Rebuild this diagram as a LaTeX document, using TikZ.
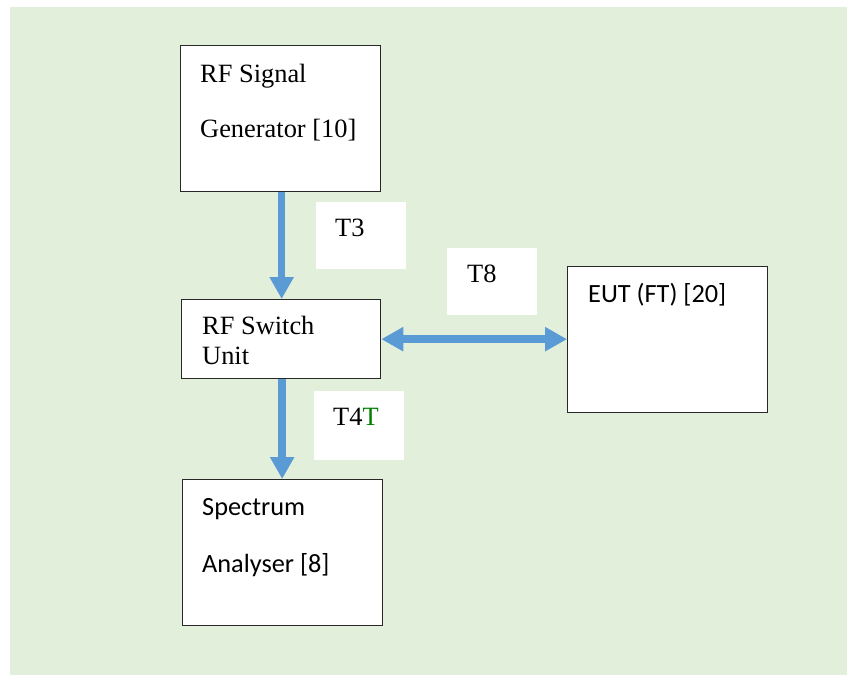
\documentclass[tikz,border=0pt]{standalone}
\usepackage{fontspec}
\setmainfont{Liberation Serif}
\newfontfamily\calibri{Carlito}
\usetikzlibrary{arrows.meta}
\definecolor{bggreen}{RGB}{226,239,218}
\definecolor{arrowblue}{RGB}{91,155,213}
\definecolor{boxline}{RGB}{40,40,40}
\definecolor{tgreen}{RGB}{0,128,0}
\begin{document}
\begin{tikzpicture}[x=1pt,y=-1pt,
  blockbox/.style={draw=boxline,line width=1.3pt,fill=white,anchor=north west,inner sep=0pt},
  labelbox/.style={fill=white,anchor=north west,inner sep=0pt,minimum width=90pt,minimum height=67pt},
  serif/.style={anchor=base west,inner sep=0pt,font=\fontsize{26.4}{30}\selectfont},
  sans/.style={anchor=base west,inner sep=0pt,font=\calibri\fontsize{26.3}{30}\selectfont},
  flow/.style={arrowblue,line width=7.5pt,-{Triangle[width=23pt,length=22pt]}},
  flowboth/.style={arrowblue,line width=7.5pt,{Triangle[width=23pt,length=22pt]}-{Triangle[width=23pt,length=22pt]}}]
\useasboundingbox (0,0) rectangle (847,675);
\fill[bggreen] (10,7) rectangle (847,675);

% blocks
\node[blockbox,minimum width=200pt,minimum height=146pt] (gen) at (180,45) {};
\node[blockbox,minimum width=199pt,minimum height=79pt] (sw) at (181,299) {};
\node[blockbox,minimum width=200pt,minimum height=146pt] (spec) at (182,479) {};
\node[blockbox,minimum width=200pt,minimum height=146pt] (eut) at (567,266) {};

% label boxes
\node[labelbox] (t3box) at (316,202) {};
\node[labelbox] (t8box) at (447,248) {};
\node[labelbox,minimum height=69pt] (t4box) at (314,391) {};

% texts
\node[serif] (gen1) at (200,82) {RF Signal};
\node[serif] (gen2) at (200,137) {Generator [10]};
\node[serif] (sw1) at (202,334) {RF Switch};
\node[serif] (sw2) at (202,364) {Unit};
\node[sans] (spec1) at (202,515) {Spectrum};
\node[sans] (spec2) at (202,572) {Analyser [8]};
\node[sans] (eut1) at (588,302) {EUT (FT) [20]};
\node[serif] (t3) at (335,236) {T3};
\node[serif] (t8) at (467,282) {T8};
\node[serif] (t4) at (333,425) {T4\textcolor{tgreen}{T}};

% connectors
\draw[flow] ([xshift=1pt]gen.south) -- ([xshift=1pt]gen.south |- sw.north);
\draw[flow] ([xshift=1pt]sw.south) -- ([xshift=1pt]sw.south |- spec.north);
\draw[flowboth] (sw.east) -- (sw.east -| eut.west);
\end{tikzpicture}
\end{document}
